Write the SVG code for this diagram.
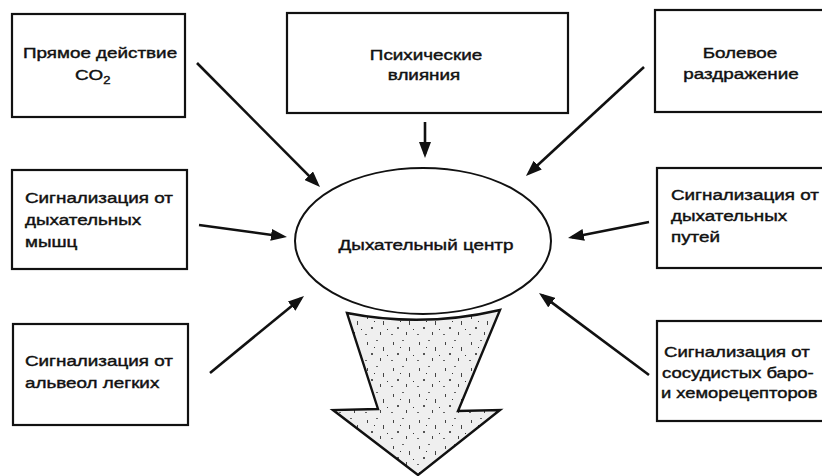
<svg xmlns="http://www.w3.org/2000/svg" width="822" height="476" viewBox="0 0 822 476">
<style>
.box{fill:#fff;stroke:#111;stroke-width:2.2}
.t{font-family:"Liberation Sans",Arial,sans-serif;font-size:14.5px;fill:#111;stroke:#111;stroke-width:0.4}
.c{text-anchor:middle}
.con{stroke:#111;stroke-width:2.6;fill:none;marker-end:url(#ah)}
</style>
<defs>
<marker id="ah" markerUnits="userSpaceOnUse" markerWidth="16" markerHeight="12" refX="12" refY="6" orient="auto" viewBox="0 0 16 12">
<path d="M0,0 L16,6 L0,12 z" fill="#111"/>
</marker>
<pattern id="speck" width="26" height="26" patternUnits="userSpaceOnUse">
<rect width="26" height="26" fill="#efefef"/>
<rect x="3" y="4" width="1" height="3" fill="#444"/>
<rect x="12" y="2" width="2" height="1" fill="#666"/>
<rect x="19" y="9" width="1" height="4" fill="#444"/>
<rect x="7" y="15" width="2" height="2" fill="#555"/>
<rect x="16" y="20" width="1" height="3" fill="#444"/>
<rect x="23" y="17" width="1" height="1" fill="#333"/>
<rect x="1" y="22" width="2" height="1" fill="#666"/>
<rect x="10" y="9" width="1" height="1" fill="#333"/>
</pattern>
</defs>

<g id="arrow-out">
<path d="M347,313 Q423,328 500,310 L458,411 L500,410 L418,475 L333,410 L378,409 Z" fill="url(#speck)" stroke="#111" stroke-width="2.4" stroke-linejoin="miter"/>
</g>

<g id="center">
<ellipse cx="423" cy="241" rx="128" ry="73" fill="#fff" stroke="#111" stroke-width="2"/>
<text class="t c" transform="translate(426,250) scale(1.3,1)">Дыхательный центр</text>
</g>

<g id="n-co2">
<rect class="box" x="12" y="14" width="173" height="103"/>
<text class="t" transform="translate(23,58) scale(1.3,1)">Прямое действие</text>
<text class="t" transform="translate(75,80) scale(1.3,1)">CO<tspan font-size="10" dy="4">2</tspan></text>
</g>

<g id="n-psych">
<rect class="box" x="287" y="13" width="281" height="100"/>
<text class="t c" transform="translate(426,60) scale(1.3,1)">Психические</text>
<text class="t c" transform="translate(424,80) scale(1.3,1)">влияния</text>
</g>

<g id="n-pain">
<rect class="box" x="655" y="10" width="180" height="102"/>
<text class="t c" transform="translate(740,58) scale(1.3,1)">Болевое</text>
<text class="t c" transform="translate(741,79) scale(1.3,1)">раздражение</text>
</g>

<g id="n-muscles">
<rect class="box" x="12" y="170" width="175" height="99"/>
<text class="t" transform="translate(25,203) scale(1.3,1)">Сигнализация от</text>
<text class="t" transform="translate(25,225) scale(1.3,1)">дыхательных</text>
<text class="t" transform="translate(25,247) scale(1.3,1)">мышц</text>
</g>

<g id="n-airways">
<rect class="box" x="657" y="168" width="180" height="100"/>
<text class="t" transform="translate(671,200) scale(1.3,1)">Сигнализация от</text>
<text class="t" transform="translate(671,221) scale(1.3,1)">дыхательных</text>
<text class="t" transform="translate(671,242) scale(1.3,1)">путей</text>
</g>

<g id="n-alveoli">
<rect class="box" x="13" y="324" width="175" height="101"/>
<text class="t" transform="translate(25,366) scale(1.3,1)">Сигнализация от</text>
<text class="t" transform="translate(25,388) scale(1.3,1)">альвеол легких</text>
</g>

<g id="n-vessels">
<rect class="box" x="657" y="321" width="180" height="100"/>
<text class="t" transform="translate(664,357) scale(1.28,1)">Сигнализация от</text>
<text class="t" transform="translate(662,378) scale(1.28,1)">сосудистых баро-</text>
<text class="t" transform="translate(661,398) scale(1.265,1)">и хеморецепторов</text>
</g>

<g id="connectors">
<line class="con" x1="197" y1="63" x2="317.2" y2="184.2"/>
<line class="con" x1="425" y1="122" x2="425" y2="154"/>
<line class="con" x1="644" y1="67" x2="528.9" y2="173.3"/>
<line class="con" x1="199" y1="225" x2="283" y2="236.5"/>
<line class="con" x1="649" y1="222" x2="571.9" y2="237.2"/>
<line class="con" x1="210" y1="373" x2="300.9" y2="298.5"/>
<line class="con" x1="649" y1="375" x2="542.2" y2="295.4"/>
</g>
</svg>
